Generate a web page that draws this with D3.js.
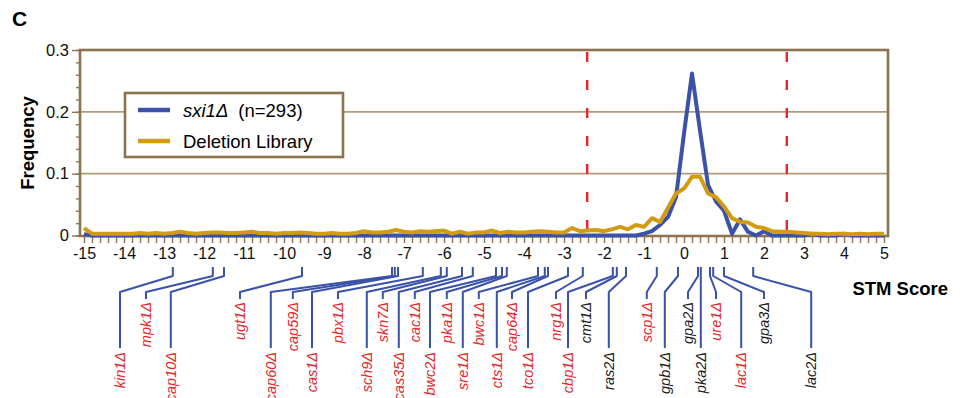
<!DOCTYPE html>
<html><head><meta charset="utf-8">
<script src="https://cdn.jsdelivr.net/npm/d3@7"></script>
<style>body{margin:0;background:#fff}svg{display:block}</style>
</head><body>
<svg id="chart" width="965" height="398"></svg>
<script>
// ---------------- data ----------------
const bins = [-15,-14.8,-14.6,-14.4,-14.2,-14,-13.8,-13.6,-13.4,-13.2,-13,-12.8,-12.6,-12.4,-12.2,-12,-11.8,-11.6,-11.4,-11.2,-11,-10.8,-10.6,-10.4,-10.2,-10,-9.8,-9.6,-9.4,-9.2,-9,-8.8,-8.6,-8.4,-8.2,-8,-7.8,-7.6,-7.4,-7.2,-7,-6.8,-6.6,-6.4,-6.2,-6,-5.8,-5.6,-5.4,-5.2,-5,-4.8,-4.6,-4.4,-4.2,-4,-3.8,-3.6,-3.4,-3.2,-3,-2.8,-2.6,-2.4,-2.2,-2,-1.8,-1.6,-1.4,-1.2,-1,-0.8,-0.6,-0.4,-0.2,0,0.2,0.4,0.6,0.8,1,1.2,1.4,1.6,1.8,2,2.2,2.4,2.6,2.8,3,3.2,3.4,3.6,3.8,4,4.2,4.4,4.6,4.8,5];
const sxi1 = [0.002,0,0,0,0,0,0,0,0,0,0,0,0,0,0,0,0,0,0,0,0,0,0,0,0,0,0,0,0,0,0,0,0,0,0,0,0,0,0,0,0,0,0,0,0,0,0,0,0,0,0,0,0,0,0,0,0,0,0,0,0,0,0,0,0,0,0,0,0,0,0.003,0.007,0.017,0.030,0.062,0.165,0.262,0.170,0.082,0.055,0.040,0.003,0.026,0.006,0,0.007,0,0,0,0,0,0.003,0,0,0,0.003,0,0,0,0,0];
const library = [0.012,0.003,0.003,0.003,0.003,0.003,0.003,0.004,0.003,0.004,0.003,0.004,0.006,0.004,0.003,0.004,0.005,0.005,0.004,0.004,0.005,0.006,0.004,0.004,0.003,0.004,0.004,0.005,0.004,0.003,0.003,0.004,0.003,0.003,0.004,0.007,0.005,0.005,0.006,0.009,0.006,0.005,0.007,0.006,0.007,0.008,0.003,0.006,0.003,0.005,0.005,0.008,0.004,0.006,0.005,0.005,0.006,0.007,0.006,0.005,0.005,0.012,0.007,0.008,0.009,0.007,0.010,0.014,0.010,0.017,0.014,0.028,0.022,0.045,0.068,0.076,0.095,0.095,0.068,0.062,0.047,0.028,0.022,0.021,0.014,0.012,0.007,0.006,0.006,0.005,0.004,0.003,0.003,0.002,0.003,0.003,0.002,0.003,0.002,0.003,0.003];
const seriesNames = ["sxi1\u0394", "Deletion Library"];
const sampleSize = 293;
const xTicks = [-15,-14,-13,-12,-11,-10,-9,-8,-7,-6,-5,-4,-3,-2,-1,0,1,2,3,4,5];
const yTicks = [0, 0.1, 0.2, 0.3];
const yTickLabels = ["0", "0.1", "0.2", "0.3"];
const thresholds = [-2.42, 2.57];
const geneNames = ["kin1","mpk1","cap10","ugt1","cap60","cap59","cas1","pbx1","sch9","skn7","cas35","cac1","bwc2","pka1","sre1","bwc1","cts1","cap64","tco1","nrg1","cbp1","cmt1","ras2","scp1","gpb1","gpa2","pka2","ure1","lac1","gpa3","lac2"];
const geneScores = [-12.78,-11.78,-11.5,-9.55,-7.3,-7.23,-7.15,-6.53,-6.08,-5.93,-5.55,-5.28,-4.7,-4.55,-4.43,-3.65,-3.48,-3.4,-2.9,-2.53,-1.78,-1.68,-1.45,-0.68,-0.15,0.35,0.42,0.65,0.73,1.0,1.73];
const geneHighlighted = [1,1,1,1,1,1,1,1,1,1,1,1,1,1,1,1,1,1,1,1,1,0,0,1,0,0,0,1,1,0,0];
// label slots (layout, in STM-score units)
const labelSlots = [-14.1,-13.45,-12.83,-11.1,-10.33,-9.78,-9.3,-8.65,-7.93,-7.53,-7.13,-6.73,-6.35,-5.93,-5.53,-5.13,-4.68,-4.3,-3.9,-3.2,-2.9,-2.45,-1.88,-0.93,-0.48,0.1,0.42,0.8,1.43,2.0,3.18];

// ---------------- drawing ----------------
const FONT = "'Liberation Sans', Arial, Helvetica, sans-serif";
const tan = "#8c7350", gridC = "#b29c78";
const blue = "#3a52a8", orange = "#d29b12", red = "#e8262a";
const svg = d3.select("#chart").style("font-family", FONT);
const fL = 80, fR = 888, fT = 50, fB = 236;
const x = d3.scaleLinear().domain([-15, 5]).range([84, 884]);
const y = d3.scaleLinear().domain([0, 0.3]).range([235.5, 50]);

// panel letter
svg.append("text").attr("x", 12).attr("y", 26).attr("font-size", 21).attr("font-weight", "bold").text("C");

// gridlines
svg.append("g").selectAll("line").data(yTicks.filter(v => v > 0 && v < 0.3)).join("line")
  .attr("x1", fL).attr("x2", fR).attr("y1", d => y(d)).attr("y2", d => y(d))
  .attr("stroke", gridC).attr("stroke-width", 1.6);

// frame
svg.append("rect").attr("x", fL).attr("y", fT).attr("width", fR - fL).attr("height", fB - fT)
  .attr("fill", "none").attr("stroke", tan).attr("stroke-width", 2.6);

// y axis
const yMinor = d3.range(0, 0.3001, 0.02);
const gyMinor = svg.append("g").attr("transform", `translate(${fL},0)`)
  .call(d3.axisLeft(y).tickValues(yMinor).tickSize(4).tickFormat(""));
const gy = svg.append("g").attr("transform", `translate(${fL},0)`)
  .call(d3.axisLeft(y).tickValues(yTicks).tickSize(8).tickPadding(3).tickFormat((d, i) => yTickLabels[i]));
[gy, gyMinor].forEach(g => { g.select(".domain").remove(); g.selectAll("line").attr("stroke", tan).attr("stroke-width", 1.4); });
gy.selectAll("text").attr("font-size", 16.5).attr("fill", "#111").attr("font-family", FONT);

// x axis
const gx = svg.append("g").attr("transform", `translate(0,${fB})`)
  .call(d3.axisBottom(x).tickValues(bins).tickSize(7).tickFormat(""));
gx.select(".domain").remove();
gx.selectAll("line").attr("stroke", tan).attr("stroke-width", 1.4);
const gxl = svg.append("g").attr("transform", `translate(0,${fB})`)
  .call(d3.axisBottom(x).tickValues(xTicks).tickSize(0).tickPadding(12).tickFormat(d => d < 0 ? "-" + Math.abs(d) : String(d)));
gxl.select(".domain").remove();
gxl.selectAll("text").attr("font-size", 16).attr("fill", "#111").attr("font-family", FONT);

svg.append("text").attr("x", 28).attr("y", 143).attr("transform", "rotate(-90,28,143)")
  .attr("text-anchor", "middle").attr("dy", "0.35em").attr("font-size", 18.5).attr("font-weight", "bold").text("Frequency");
svg.append("text").attr("x", 948).attr("y", 295).attr("text-anchor", "end")
  .attr("font-size", 18.5).attr("font-weight", "bold").text("STM Score");

// threshold lines
svg.append("g").selectAll("line").data(thresholds).join("line")
  .attr("x1", d => x(d)).attr("x2", d => x(d)).attr("y1", fT + 2).attr("y2", fB - 1)
  .attr("stroke", red).attr("stroke-width", 2.4).attr("stroke-dasharray", "10,18");

// series
const line = d3.line().x((d, i) => x(bins[i])).y(d => y(d));
svg.append("path").datum(sxi1).attr("d", line).attr("fill", "none").attr("stroke", blue)
  .attr("stroke-width", 4).attr("stroke-linejoin", "round");
svg.append("path").datum(library).attr("d", line).attr("fill", "none").attr("stroke", orange)
  .attr("stroke-width", 4).attr("stroke-linejoin", "round");

// legend
const lg = svg.append("g");
lg.append("rect").attr("x", 125).attr("y", 93).attr("width", 218).attr("height", 64)
  .attr("fill", "#fff").attr("stroke", tan).attr("stroke-width", 2.6);
[blue, orange].forEach((c, i) => {
  lg.append("line").attr("x1", 138).attr("x2", 170).attr("y1", 110 + i * 31).attr("y2", 110 + i * 31)
    .attr("stroke", c).attr("stroke-width", 4.5);
});
const t1 = lg.append("text").attr("x", 183).attr("y", 116.5).attr("font-size", 18.5);
t1.append("tspan").attr("font-style", "italic").text(seriesNames[0]);
t1.append("tspan").attr("dx", 10).text(`(n=${sampleSize})`);
lg.append("text").attr("x", 183).attr("y", 147.5).attr("font-size", 18.5).text(seriesNames[1]);

// gene labels with leaders
const genes = geneNames.map((n, i) => ({ name: n, score: geneScores[i], hi: geneHighlighted[i], slot: labelSlots[i], upper: i % 2 === 1 }));
const gg = svg.append("g");
gg.selectAll("path").data(genes).join("path")
  .attr("d", d => {
    const xt = x(d.score), xs = x(d.slot);
    const end = d.upper ? 299 : 348;
    return `M${xt},267V276L${xs},292V${end}`;
  })
  .attr("fill", "none").attr("stroke", blue).attr("stroke-width", 2).attr("stroke-linejoin", "round");
gg.selectAll("text").data(genes).join("text")
  .attr("transform", d => `translate(${x(d.slot)},${d.upper ? 302 : 352}) rotate(-90)`)
  .attr("text-anchor", "end").attr("dy", "0.36em")
  .attr("font-size", 14.5).attr("font-style", "italic")
  .attr("fill", d => d.hi ? red : "#1a1a1a")
  .text(d => d.name + "\u0394");
</script>
</body></html>
